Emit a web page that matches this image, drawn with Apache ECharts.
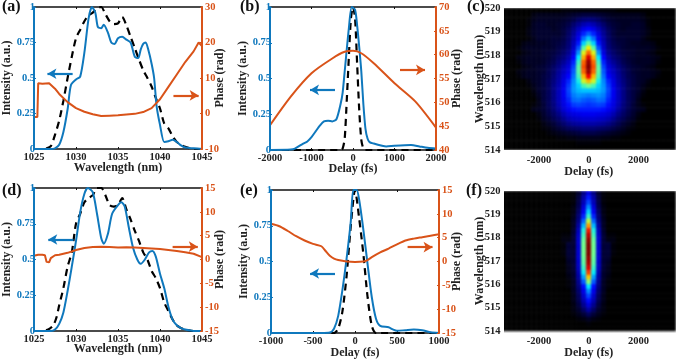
<!DOCTYPE html>
<html><head><meta charset="utf-8">
<style>html,body{margin:0;padding:0;background:#fff}#c{width:676px;height:360px}</style>
<script src="https://cdn.jsdelivr.net/npm/echarts@6/dist/echarts.min.js"></script>
</head><body><div id="c"></div>
<script>
// Panel (a)
const aBlueX=[1025,1027,1027.5,1028,1028.5,1029,1029.4,1030,1030.5,1031,1031.5,1031.9,1032.3,1032.6,1033,1033.3,1033.8,1034.2,1034.6,1035,1035.5,1036,1036.5,1037,1037.4,1037.7,1038,1038.3,1038.6,1039,1039.3,1039.6,1040,1040.5,1041,1041.5,1042,1042.5,1043,1044,1045];
const aBlueY=[0,0,.005,.03,.12,.28,.45,.49,.51,.68,.92,1,.96,.86,.85,.875,.82,.75,.74,.78,.79,.77,.75,.65,.64,.7,.74,.75,.7,.6,.5,.3,.17,.05,.055,.065,.05,.025,.01,.005,0];
const aDashX=[1025,1026,1026.5,1027,1027.5,1028,1028.5,1029,1029.5,1030,1030.5,1031,1031.5,1032,1032.5,1033,1033.5,1034,1034.5,1035,1035.5,1036,1036.5,1037,1037.5,1038,1038.5,1039,1039.5,1040,1040.5,1041,1041.5,1042,1042.5,1043,1044,1045];
const aDashY=[0,0,.005,.02,.1,.2,.34,.5,.65,.78,.84,.9,.94,.96,.99,1,.95,.9,.88,.885,.93,.87,.79,.71,.63,.555,.5,.44,.36,.285,.18,.145,.09,.05,.03,.015,0,0];
const aPhaseX=[1025,1025.4,1025.5,1026,1026.8,1027.5,1028,1029,1030,1031,1032,1033,1034,1035,1036,1037,1038,1039,1040,1041,1042,1043,1044,1044.6,1045];
const aPhaseY=[-1,-1,8.5,8.4,8.5,7,5.5,3.2,1.5,.5,-.2,-.7,-.6,-.5,-.3,-.1,.4,1.5,4,7.5,11,14.5,17.5,20,19];
// Panel (b)
const bBlueX=[-2000,-1500,-1400,-1200,-1100,-1000,-900,-800,-700,-600,-500,-400,-300,-250,-200,-100,-30,50,100,150,200,250,300,350,400,500,700,800,1000,1400,1600,1800,2000];
const bBlueY=[0,.003,.01,.045,.06,.09,.13,.17,.2,.205,.2,.215,.32,.4,.55,.85,1,.98,.87,.72,.55,.32,.15,.08,.055,.045,.03,.025,.03,.035,.025,.015,.01];
const bDashX=[-2000,-300,-250,-200,-150,-100,-50,0,50,100,150,200,250,300,2000];
const bDashY=[0,0,.01,.08,.35,.65,.92,1,.92,.6,.28,.07,.01,0,0];
const bPhaseX=[-2000,-1500,-1000,-500,-200,0,200,500,1000,1500,2000];
const bPhaseY=[45.2,51.2,56.1,59.2,60.6,60.8,60.3,58.2,54,50.2,44.7];
// Panel (d)
const dBlueX=[1025,1027,1027.5,1028,1028.5,1029,1029.5,1030,1030.5,1031,1031.4,1032,1032.5,1033,1033.3,1033.8,1034.3,1035,1035.4,1035.8,1036.3,1036.8,1037.3,1037.7,1038.2,1038.7,1039.1,1039.5,1040,1040.5,1041,1041.5,1042,1042.5,1043,1044,1045];
const dBlueY=[0,0,.01,.05,.13,.28,.45,.63,.83,.96,1,.97,.82,.65,.61,.68,.82,.88,.9,.87,.72,.58,.5,.47,.5,.55,.56,.52,.4,.3,.17,.08,.04,.02,.01,0,0];
const dDashX=[1025,1026,1026.7,1027.3,1027.7,1028,1028.5,1029,1029.5,1030,1030.5,1031,1031.5,1032,1032.5,1033,1033.5,1034,1034.5,1035,1035.5,1036,1036.5,1037,1037.5,1038,1038.5,1039,1039.5,1040,1040.5,1041,1041.5,1042,1042.5,1043,1044,1045];
const dDashY=[0,0,.01,.04,.1,.18,.3,.45,.55,.75,.82,.9,.93,.95,1,1,.95,.88,.87,.88,.93,.85,.78,.7,.63,.55,.5,.42,.37,.3,.2,.14,.08,.04,.02,.01,0,0];
const dPhaseX=[1025,1025.5,1026,1026.3,1026.5,1026.8,1027,1027.5,1028,1029,1030,1031,1032,1033,1034,1035,1036,1037,1038,1039,1040,1041,1042,1043,1044,1045];
const dPhaseY=[.8,1,1,.9,-.5,-.6,.3,.9,1,1.4,2,2.4,2.6,2.7,2.6,2.5,2.55,2.5,2.4,2.3,2.2,2,1.8,1.5,1.2,.5];
// Panel (e)
const eBlueX=[-1000,-400,-300,-250,-200,-150,-100,-50,-20,20,50,100,150,200,250,300,400,450,500,600,700,800,900,1000];
const eBlueY=[0,0,.003,.03,.12,.3,.52,.78,1,1,.93,.72,.48,.25,.1,.05,.04,.025,.015,.02,.025,.02,.005,0];
const eDashX=[-1000,-250,-200,-150,-100,-50,0,50,100,150,200,250,1000];
const eDashY=[0,0,.03,.15,.4,.75,1,.8,.55,.25,.05,0,0];
const ePhaseX=[-1000,-900,-800,-700,-600,-500,-400,-350,-300,-250,-200,-100,0,100,150,200,300,400,500,600,700,800,900,1000];
const ePhaseY=[7.9,7.4,6.4,5.3,4.4,3.7,3.2,2.2,1.2,.6,.3,0,-.1,0,.3,.9,1.9,2.7,3.6,4.4,4.8,5.1,5.4,5.7];
// Tick labels
const intensityTicks=['0','0.25','0.5','0.75','1'];
const delayTraceTicks=[-2000,0,2000];
// FROG traces, symmetric in delay: each row lists delay 0, 200, 400 ... fs; rows run from 519.9 nm down to 514.1 nm
const traceC=[
[1,1,1,1,1,1],[7,7,6,5,4,3,3,3,3,3,3,2],[14,13,11,8,6,5,4,4,4,4,4,3,1],[22,20,16,12,8,6,5,4,4,5,5,4,1],
[30,27,21,15,10,7,5,4,5,5,5,4,2],[38,33,25,17,11,7,5,5,5,5,5,4,2],[47,40,28,19,12,8,6,6,5,5,5,3,1],[58,48,32,21,13,9,7,6,5,4,4,3,3,2],
[70,58,37,23,14,10,8,6,5,5,4,4,4,3,1],[82,68,43,26,16,12,9,7,6,5,4,4,3,2],[92,76,50,30,19,14,11,8,6,5,4,4,4,3,2],[98,82,55,33,22,17,13,9,7,5,4,4,4,3,1],
[100,84,58,36,25,20,15,11,8,6,5,4,3,2],[98,82,58,38,27,22,17,12,9,6,5,4,4,3,2],[90,75,56,40,30,24,18,13,9,7,5,4,4,3,1],[75,67,52,42,33,26,19,14,10,7,5,4,2],
[60,56,48,43,35,27,20,15,10,7,5,3,1],[47,47,46,43,36,28,21,15,10,7,5,2],[41,42,43,41,35,28,21,15,10,7,4,1],[37,38,40,39,33,27,21,15,10,7,3],
[34,35,36,35,31,26,20,14,10,6,3,1],[32,32,32,31,28,24,18,13,9,6,4,3],[28,28,27,26,24,20,15,11,8,5,2],[24,24,23,22,20,16,12,9,6,4,1],
[19,19,18,17,15,12,9,6,4,2],[13,13,12,11,10,8,6,4,2,1],[8,8,7,6,5,4,3,2,1],[3,3,3,2,2,1,1],[1,1,1],[0]];
const traceF=[
[26,15,5,1],[32,19,7,1],[36,21,8,1],[42,25,9,2],[48,28,11,2],[55,33,13,3],[66,39,15,4],[78,46,18,4],
[88,53,21,5],[94,56,23,6,1,1],[98,59,24,6,2,2],[100,60,24,6,6,1],[100,60,24,6,6,1],[100,60,24,6,6,1],[98,59,24,6,5],[96,58,23,6,4],
[92,55,22,6,3],[85,51,20,5,3],[74,44,18,5,2],[62,38,16,4,1],[50,31,14,4,1],[42,27,12,4],[36,23,10,3],[31,20,9,3],
[25,16,7,2],[18,11,5,2],[10,6,3,1],[4,2,1],[1],[0]];
const jet=['#000000','#00005a','#0000b0','#0000ff','#0070ff','#00e8ff','#70ff90','#f4f000','#ff8000','#ee0000','#800000'];

const BLUE='#0f78bd',ORANGE='#d95319',FONT='"Liberation Serif","Times New Roman",serif';
const zip=(xs,ys)=>xs.map((x,i)=>[x,ys[i]]);
const grid=[],xAxis=[],yAxis=[],series=[],graphic=[];
const txt=(color,size)=>({color:color,fontFamily:FONT,fontWeight:'bold',fontSize:size});

function linePanel(p){
  const g=grid.length;
  grid.push({left:p.l,top:p.t,width:p.w,height:p.h});
  const xb=xAxis.length;
  const xbase={type:'value',gridIndex:g,min:p.xr[0],max:p.xr[1],interval:p.xi,splitLine:{show:false},
    axisLine:{onZero:false,lineStyle:{color:'#111',width:1.5}},axisTick:{inside:true,length:2,lineStyle:{color:'#111'}}};
  xAxis.push(Object.assign({},xbase,{position:'bottom',name:p.xn,nameLocation:'middle',nameGap:p.xg,nameMoveOverlap:false,nameTextStyle:txt('#222',12),
    axisLabel:Object.assign(txt('#222',10.5),{margin:3,hideOverlap:false,showMinLabel:true,showMaxLabel:true,formatter:v=>String(v)})}));
  xAxis.push(Object.assign({},xbase,{position:'top',axisLabel:{show:false}}));
  const yl=yAxis.length;
  yAxis.push({type:'value',gridIndex:g,position:'left',min:0,max:1,interval:.25,splitLine:{show:false},z:5,
    axisLine:{onZero:false,lineStyle:{color:BLUE,width:2}},axisTick:{inside:true,length:2,lineStyle:{color:BLUE}},
    axisLabel:Object.assign(txt(BLUE,10.5),{margin:-1,padding:[0,0,4,0],formatter:v=>intensityTicks[Math.round(v*4)],showMinLabel:true,showMaxLabel:true}),
    name:'Intensity (a.u.)',nameLocation:'middle',nameGap:p.lg,nameMoveOverlap:false,nameTextStyle:txt('#222',12)});
  yAxis.push({type:'value',gridIndex:g,position:'right',min:p.rr[0],max:p.rr[1],interval:p.ri,splitLine:{show:false},z:5,
    axisLine:{onZero:false,lineStyle:{color:ORANGE,width:2}},axisTick:{inside:true,length:2,lineStyle:{color:ORANGE}},
    axisLabel:Object.assign(txt(ORANGE,10.5),{margin:3,padding:[0,0,4,0],showMinLabel:true,showMaxLabel:true}),
    name:'Phase (rad)',nameLocation:'middle',nameGap:p.rg,nameMoveOverlap:false,nameTextStyle:txt('#222',12)});
  const arrow=(a)=>({silent:true,symbol:['none','arrow'],symbolSize:[8,9],animation:false,label:{show:false},
    lineStyle:{type:'solid',width:2.2,color:a[3]},emphasis:{disabled:true},
    data:[[{coord:[a[0],a[2]]},{coord:[a[1],a[2]]}]]});
  series.push({type:'line',xAxisIndex:xb,yAxisIndex:yl,data:p.dash,showSymbol:false,smooth:.25,z:2,
    lineStyle:{color:'#000',width:2.2,type:[7,5]}});
  series.push({type:'line',xAxisIndex:xb,yAxisIndex:yl,data:p.blue,showSymbol:false,smooth:.25,z:3,
    lineStyle:{color:BLUE,width:2},markLine:arrow(p.ba.concat(BLUE))});
  series.push({type:'line',xAxisIndex:xb,yAxisIndex:yl+1,data:p.phase,showSymbol:false,smooth:p.sm,z:4,
    lineStyle:{color:ORANGE,width:2},markLine:arrow(p.oa.concat(ORANGE))});
}
const heatIdx=[];
function heatPanel(p){
  const g=grid.length;
  grid.push({left:p.l,top:p.t,width:175,height:p.h});
  const delays=[];for(let d=-3400;d<=3400;d+=200)delays.push(d);
  const nRows=p.rows.length;
  const ys=p.rows.map((r,i)=>i);
  const xi=xAxis.length,yi=yAxis.length;
  xAxis.push({type:'category',gridIndex:g,data:delays,position:'bottom',axisLine:{show:false},axisTick:{show:false},splitLine:{show:false},
    axisLabel:Object.assign(txt('#222',10.5),{margin:5,interval:(i,v)=>delayTraceTicks.includes(+v)}),
    name:'Delay (fs)',nameLocation:'middle',nameGap:16,nameMoveOverlap:false,nameTextStyle:txt('#222',12)});
  yAxis.push({type:'category',gridIndex:g,data:ys,show:false});
  yAxis.push({type:'value',gridIndex:g,position:'left',min:514,max:520,interval:1,splitLine:{show:false},axisLine:{show:false},axisTick:{show:false},
    axisLabel:Object.assign(txt('#222',10.5),{margin:1,showMinLabel:true,showMaxLabel:true}),
    name:'Wavelength (nm)',nameLocation:'middle',nameGap:16,nameMoveOverlap:false,nameTextStyle:txt('#222',12)});
  const data=[];
  p.rows.forEach((row,r)=>delays.forEach((d,c)=>{
    const v=row[Math.abs(d)/200]||0;
    data.push([c,nRows-1-r,v]);
  }));
  heatIdx.push(series.length);
  series.push({type:'heatmap',xAxisIndex:xi,yAxisIndex:yi,data:data,zlevel:1,progressive:0,silent:true,emphasis:{disabled:true}});
}
linePanel({l:33,t:7,w:169,h:142,xr:[1025,1045],xi:5,xn:'Wavelength (nm)',xg:13,rr:[-10,30],ri:10,lg:21,rg:12,sm:false,
  blue:zip(aBlueX,aBlueY),dash:zip(aDashX,aDashY),phase:zip(aPhaseX,aPhaseY),ba:[1029.6,1026.6,.53],oa:[1041.6,1044.6,5.1]});
linePanel({l:270,t:7,w:166,h:143,xr:[-2000,2000],xi:1000,xn:'Delay (fs)',xg:13,rr:[40,70],ri:5,lg:21,rg:15,sm:.25,
  blue:zip(bBlueX,bBlueY),dash:zip(bDashX,bDashY),phase:zip(bPhaseX,bPhaseY),ba:[-434,-1036,.42],oa:[1132,1735,56.8]});
heatPanel({l:501.5,t:8,h:142,rows:traceC});
linePanel({l:33,t:188,w:169,h:143,xr:[1025,1045],xi:5,xn:'Wavelength (nm)',xg:12,rr:[-15,15],ri:5,lg:21,rg:12,sm:false,
  blue:zip(dBlueX,dBlueY),dash:zip(dDashX,dDashY),phase:zip(dPhaseX,dPhaseY),ba:[1029.7,1026.7,.64],oa:[1041.5,1044.5,2.7]});
linePanel({l:271,t:190,w:168,h:143,xr:[-1000,1000],xi:500,xn:'Delay (fs)',xg:14,rr:[-15,15],ri:5,lg:21,rg:12,sm:.25,
  blue:zip(eBlueX,eBlueY),dash:zip(eDashX,eDashY),phase:zip(ePhaseX,ePhaseY),ba:[-238,-535,.416],oa:[626,923,3]});
heatPanel({l:501.5,t:191,h:142,rows:traceF});

[['(a)',2,8],['(b)',240,8],['(c)',467,8],['(d)',2,192],['(e)',240,192],['(f)',466,192]].forEach(a=>{
  graphic.push({type:'text',left:a[1],top:a[2]-9,style:{text:a[0],fill:'#111',font:'bold 16px '+FONT}});
});

const chart=echarts.init(document.getElementById('c'),null,{renderer:'canvas'});
chart.setOption({animation:false,backgroundColor:'#fff',grid,xAxis,yAxis,series,graphic,
  visualMap:[{type:'continuous',show:false,seriesIndex:heatIdx,min:0,max:100,inRange:{color:jet}}]});
// soften the coarse trace cells and keep them inside their frames
const canvases=document.querySelectorAll('#c canvas');
const heatLayer=canvases[canvases.length-1];
heatLayer.style.filter='blur(1.2px)';
heatLayer.style.clipPath='path("M504 8H676V150H504Z M504 191H676V333H504Z")';
</script></body></html>
